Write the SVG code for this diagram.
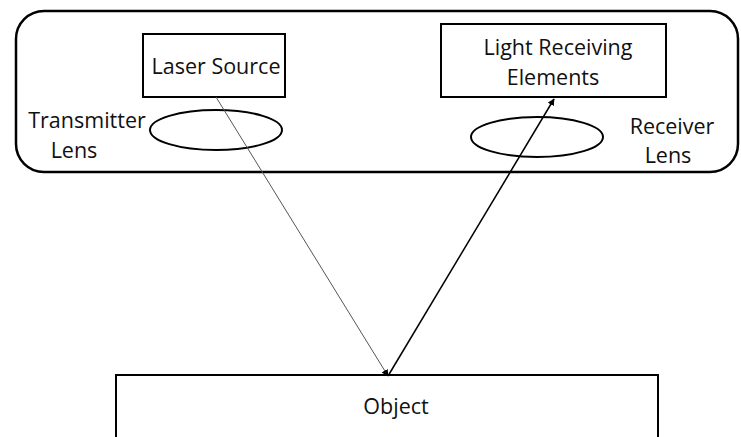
<svg xmlns="http://www.w3.org/2000/svg" width="741" height="437" viewBox="0 0 741 437">
<style>
text{font-family:"Open Sans","Noto Sans",sans-serif;font-size:21.5px;fill:#111;text-anchor:middle}
.box{fill:#fff;stroke:#000;stroke-width:2}
.lens{fill:none;stroke:#000;stroke-width:2}
</style>
<defs>
<marker id="ah" viewBox="0 0 10 10" refX="9" refY="5" markerWidth="7" markerHeight="7" orient="auto" markerUnits="userSpaceOnUse"><path d="M0,0 L10,5 L0,10 z" fill="#000"/></marker>
</defs>
<rect width="741" height="437" fill="#fff"/>
<g id="housing"><rect x="16" y="11" width="722" height="161" rx="28" ry="28" fill="none" stroke="#000" stroke-width="2.5"/></g>
<g id="laser-source"><rect class="box" x="143" y="34" width="142" height="63"/><text x="216" y="74">Laser Source</text></g>
<g id="light-receiving"><rect class="box" x="441" y="24" width="225" height="73"/><text x="558" y="55">Light Receiving</text><text x="553" y="85">Elements</text></g>
<g id="transmitter-lens"><ellipse class="lens" cx="216" cy="130" rx="66" ry="20"/><text x="87" y="128">Transmitter</text><text x="74" y="158">Lens</text></g>
<g id="receiver-lens"><ellipse class="lens" cx="537" cy="137" rx="66" ry="20"/><text x="672" y="134">Receiver</text><text x="668" y="163">Lens</text></g>
<g id="object"><rect class="box" x="116" y="375" width="542" height="80"/><text x="396" y="414">Object</text></g>
<g id="connectors">
<line x1="216" y1="97" x2="388" y2="376" stroke="#555" stroke-width="1" marker-end="url(#ah)"/>
<line x1="388" y1="376" x2="554" y2="99" stroke="#000" stroke-width="1.5" marker-end="url(#ah)"/>
</g>
</svg>
